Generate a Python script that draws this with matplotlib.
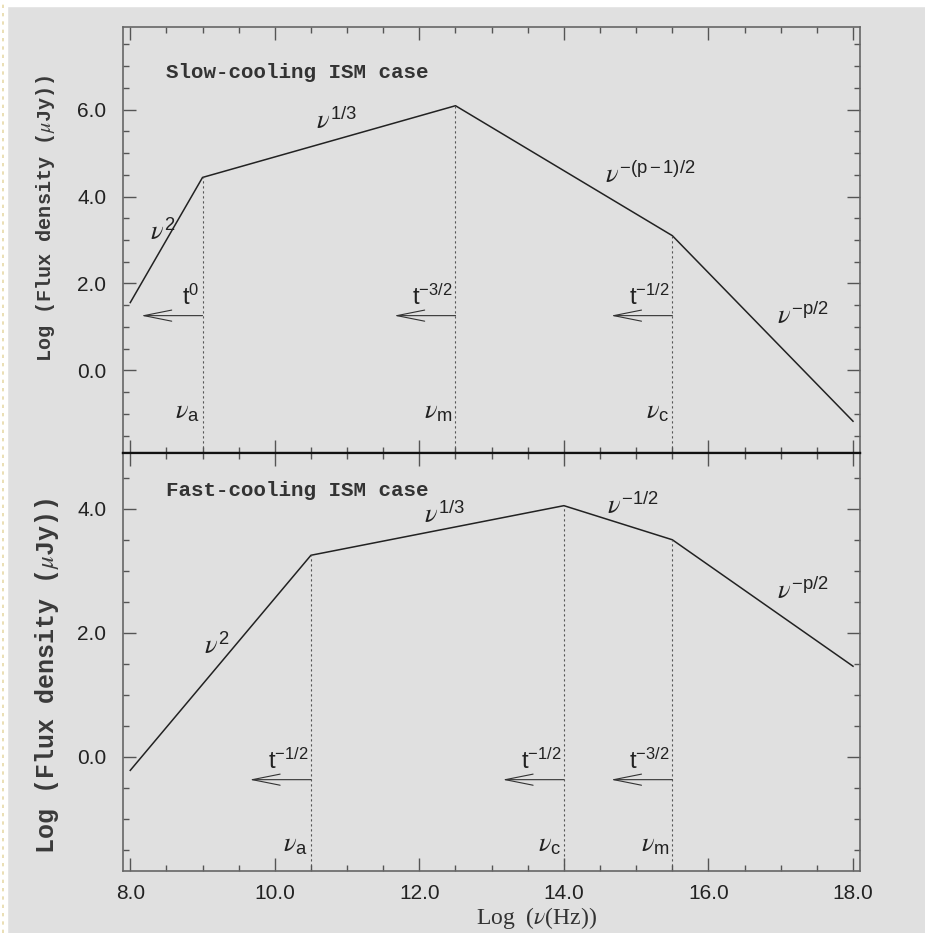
import matplotlib
matplotlib.use("Agg")
import matplotlib.pyplot as plt
from matplotlib.ticker import MultipleLocator, FormatStrFormatter
from matplotlib.patches import Rectangle
from matplotlib.lines import Line2D

plt.rcParams['mathtext.fontset'] = 'stix'
plt.rcParams['font.family'] = 'Liberation Sans'

# slow-cooling spectrum: break points (log nu, log F)
slow_x = [8.0, 9.0, 12.5, 15.5, 18.0]
slow_y = [1.56, 4.44, 6.09, 3.10, -1.17]
slow_nu_names = [r'$\nu_{\mathregular{a}}$', r'$\nu_{\mathregular{m}}$', r'$\nu_{\mathregular{c}}$']
slow_t_labels = [r'$\mathregular{t^{0}}$', r'$\mathregular{t^{-3/2}}$', r'$\mathregular{t^{-1/2}}$']
slow_seg_labels = [r'$\nu^{\mathregular{2}}$', r'$\nu^{\mathregular{1/3}}$',
                   r'$\nu^{\mathregular{-(p-1)/2}}$', r'$\nu^{\mathregular{-p/2}}$']

# fast-cooling spectrum
fast_x = [8.0, 10.5, 14.0, 15.5, 18.0]
fast_y = [-0.22, 3.25, 4.05, 3.50, 1.46]
fast_nu_names = [r'$\nu_{\mathregular{a}}$', r'$\nu_{\mathregular{c}}$', r'$\nu_{\mathregular{m}}$']
fast_t_labels = [r'$\mathregular{t^{-1/2}}$', r'$\mathregular{t^{-1/2}}$', r'$\mathregular{t^{-3/2}}$']
fast_seg_labels = [r'$\nu^{\mathregular{2}}$', r'$\nu^{\mathregular{1/3}}$',
                   r'$\nu^{\mathregular{-1/2}}$', r'$\nu^{\mathregular{-p/2}}$']

bg = '#e0e0e0'
fig = plt.figure(figsize=(9.25, 9.33), dpi=100, facecolor=bg)
ax1 = fig.add_axes([0.133, 0.5145, 0.797, 0.4565])
ax2 = fig.add_axes([0.133, 0.066, 0.797, 0.4485])


def style_axis(ax, ylim):
    ax.set_facecolor(bg)
    ax.set_xlim(7.9, 18.1)
    ax.set_ylim(*ylim)
    ax.xaxis.set_major_locator(MultipleLocator(2))
    ax.xaxis.set_minor_locator(MultipleLocator(0.5))
    ax.yaxis.set_major_locator(MultipleLocator(2))
    ax.yaxis.set_minor_locator(MultipleLocator(0.5))
    ax.xaxis.set_major_formatter(FormatStrFormatter('%.1f'))
    ax.yaxis.set_major_formatter(FormatStrFormatter('%.1f'))
    ax.tick_params(which='both', direction='in', top=True, right=True,
                   color='#555555', labelsize=15, pad=12, labelcolor='#222222')
    ax.tick_params(axis='x', pad=9)
    ax.tick_params(which='major', length=9.5, width=1.0)
    ax.tick_params(which='minor', length=4.5, width=1.0)
    for s in ax.spines.values():
        s.set_color('#666666')
        s.set_linewidth(1.2)


def draw_panel(ax, xs, ys, names, tlabs, arrow_y, name_y):
    ax.plot(xs, ys, color='#222222', lw=1.1)
    ymin = ax.get_ylim()[0]
    for x, y, nm, tl in zip(xs[1:4], ys[1:4], names, tlabs):
        ax.vlines(x, ymin, y, colors='#555555', linestyles=(0, (2, 2.5)), lw=0.8)
        ax.annotate('', xy=(x - 0.85, arrow_y), xytext=(x, arrow_y),
                    arrowprops=dict(arrowstyle='->,head_length=1.0,head_width=0.2',
                                    mutation_scale=20, lw=0.8, color='#333333',
                                    shrinkA=0, shrinkB=0))
        ax.annotate(tl, xy=(x, arrow_y), xytext=(-2, 4), textcoords='offset points',
                    ha='right', va='bottom', fontsize=17, color='#222222')
        ax.text(x - 0.04, name_y, nm, ha='right', va='center', fontsize=19,
                color='#222222')


style_axis(ax1, (-1.9, 7.9))
style_axis(ax2, (-1.85, 4.9))
ax1.tick_params(labelbottom=False)
ax1.spines['bottom'].set_color('#111111')
ax1.spines['bottom'].set_linewidth(1.6)
ax2.spines['top'].set_color('#111111')
ax2.spines['top'].set_linewidth(1.6)

draw_panel(ax1, slow_x, slow_y, slow_nu_names, slow_t_labels, 1.26, -0.95)
draw_panel(ax2, fast_x, fast_y, fast_nu_names, fast_t_labels, -0.37, -1.42)

# segment power-law labels
for (x, y), lab in zip([(8.45, 3.2), (10.85, 5.75), (15.2, 4.5), (17.3, 1.26)], slow_seg_labels):
    ax1.text(x, y, lab, ha='center', va='center', fontsize=19, color='#222222')
for (x, y), lab in zip([(9.2, 1.8), (12.35, 3.9), (14.95, 4.05), (17.3, 2.68)], fast_seg_labels):
    ax2.text(x, y, lab, ha='center', va='center', fontsize=19, color='#222222')

ax1.text(8.5, 6.85, 'Slow-cooling ISM case', family='Liberation Mono',
         fontweight='bold', fontsize=15, color='#333333', va='center')
ax2.text(8.5, 4.29, 'Fast-cooling ISM case', family='Liberation Mono',
         fontweight='bold', fontsize=15, color='#333333', va='center')

fig.text(0.049, 0.766, r'Log (Flux density ($\mu$Jy))', family='Liberation Mono',
         fontweight='bold', fontsize=14.5, rotation=90, ha='center', va='center',
         color='#3a3a3a')
fig.text(0.051, 0.275, r'Log (Flux density ($\mu$Jy))', family='Liberation Mono',
         fontweight='bold', fontsize=18, rotation=90, ha='center', va='center',
         color='#3a3a3a')
fig.text(0.58, 0.002, r'Log  ($\nu$(Hz))', family='Liberation Serif',
         fontsize=17, ha='center', va='bottom', color='#333333')

# white page margins of the scan
fig.patches.append(Rectangle((0, 1 - 6 / 933), 1, 6 / 933, transform=fig.transFigure,
                             color='white', zorder=5))
fig.patches.append(Rectangle((0, 0), 7 / 925, 1, transform=fig.transFigure,
                             color='white', zorder=5))
fig.lines.append(Line2D([2.5 / 925, 2.5 / 925], [0, 1], transform=fig.transFigure,
                        color='#e6d9a8', lw=1.2, ls=(0, (2, 3)), zorder=6))

fig.savefig('out.png', dpi=100, facecolor=bg)
